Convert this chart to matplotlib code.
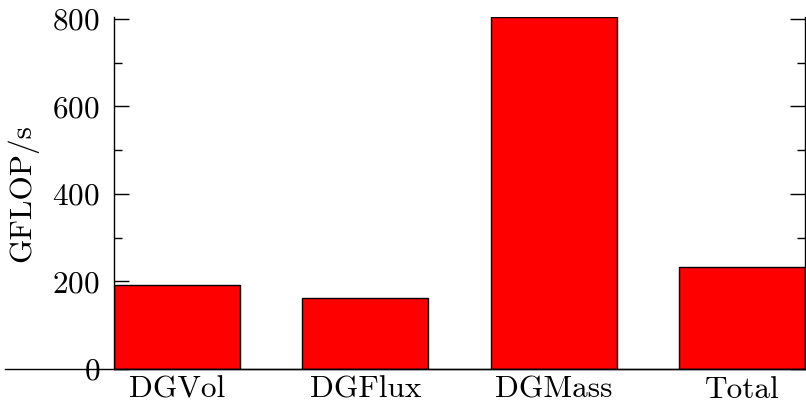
import matplotlib
matplotlib.use("Agg")
import matplotlib.pyplot as plt
from matplotlib.lines import Line2D
from matplotlib.ticker import MultipleLocator

categories = ["DGVol", "DGFlux", "DGMass", "Total"]
values = [192, 162, 804, 233]

plt.rcParams['font.family'] = 'serif'
plt.rcParams['font.serif'] = ['cmr10']
plt.rcParams['mathtext.fontset'] = 'cm'
plt.rcParams['axes.formatter.use_mathtext'] = True

fig = plt.figure(figsize=(8.06, 4.03), dpi=100)
ax = fig.add_axes([114/806, 1 - 369/403, (805-114)/806, (369-17)/403])

x = list(range(len(categories)))
ax.bar(x, values, width=0.67, color='#ff0000', edgecolor='black', linewidth=1.0, zorder=2)
ax.set_xlim(-0.335, 3.335)
ax.set_ylim(0, 804)
ax.set_xticks(x)
ax.set_xticklabels(categories)
ax.yaxis.set_major_locator(MultipleLocator(200))
ax.yaxis.set_minor_locator(MultipleLocator(100))
ax.tick_params(axis='x', length=0, pad=5, labelsize=22.5)
ax.tick_params(axis='y', which='major', direction='in', length=11, width=1, right=True, labelsize=22.5, pad=10)
ax.tick_params(axis='y', which='minor', direction='in', length=6, width=1, right=True)
ax.spines['top'].set_visible(False)
for s in ['left', 'right', 'bottom']:
    ax.spines[s].set_linewidth(1.0)
ax.set_ylabel("GFLOP/s", fontsize=22.5, labelpad=10)

line = Line2D([5/806, 1.0], [1 - 369/403, 1 - 369/403], transform=fig.transFigure, color='black', linewidth=1.0)
fig.add_artist(line)

fig.savefig("out.png", dpi=100)
